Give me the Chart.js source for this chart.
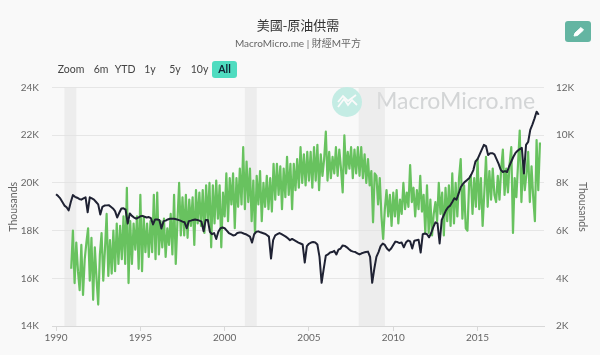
<!DOCTYPE html>
<html>
<head>
<meta charset="utf-8">
<script src="https://cdn.jsdelivr.net/npm/chart.js@4"></script>
<style>
html, body { margin: 0; padding: 0; background: #f9f9f9; }
#wrap { position: relative; width: 600px; height: 355px; overflow: hidden; font-family: Lato, sans-serif; color: #555; }
canvas { position: absolute; left: 0; top: 0; }
.range { position: absolute; top: 61px; height: 17px; line-height: 17px; font-size: 10.5px; text-align: center; color: #444; }
.range.on { background: #4fdcc0; border-radius: 3px; color: #123; font-weight: bold; }
#edit { position: absolute; left: 565px; top: 21px; width: 26px; height: 21px; background: #64b5a2; border-radius: 3px; }
#logo { position: absolute; left: 332px; top: 87px; width: 30px; height: 30px; }
</style>
</head>
<body>
<div id="wrap">
  <canvas id="oilChart" width="600" height="355"></canvas>
  <div id="buttons"></div>
  <div id="edit">
    <svg width="26" height="21" viewBox="0 0 26 21"><path d="M9 15 L10 12 L16 6.5 L18.5 9 L12.5 14.5 Z" fill="#fff" stroke="#fff" stroke-linejoin="round"/></svg>
  </div>
  <svg id="logo" viewBox="0 0 30 30">
    <circle cx="15" cy="15" r="15" fill="#c4ece4"/>
    <path d="M6 20 L12 12 L16 18 L20 13 L25 18" fill="none" stroke="#fafafa" stroke-width="1.8"/>
    <path d="M6 15 L11 9 L16 14 L24 8" fill="none" stroke="#fafafa" stroke-width="1.8"/>
  </svg>
</div>
<script>
// ----------------------------------------------------
const titleText = '美國-原油供需';
const subtitleText = 'MacroMicro.me | 財經M平方';
const rangeLabels = [ 'Zoom', '6m', 'YTD', '1y', '5y', '10y', 'All' ];
const rangeLefts = [ 56, 92, 114, 143, 168, 190, 212 ];
const rangeWidths = [ 30, 18, 22, 14, 14, 19, 25 ];
const leftTicks = [ 14, 16, 18, 20, 22, 24 ];
const rightTicks = [ 2, 4, 6, 8, 10, 12 ];
const recessions = [ [ 1990.5, 1991.2 ], [ 2001.2, 2001.9 ], [ 2007.95, 2009.5 ] ];
//
// demand, thousands of barrels, 10 readings a year from late 1990
const demandStart = 1990.9;
const demandStep = 0.1;
const demand = [
    16.4,
    18.0,15.8,17.5,16.3,15.5,17.4,15.3,16.8,17.5,18.1,
    15.9,17.7,15.1,17.3,16.0,14.9,17.0,17.9,15.9,17.2,
    18.7,16.1,17.6,16.2,18.0,16.3,18.3,16.6,18.2,16.8,
    18.6,16.6,19.8,15.8,18.4,16.6,18.3,17.2,18.6,16.4,
    19.5,16.3,18.6,17.1,18.3,16.9,18.4,17.1,19.5,16.8,
    19.6,17.0,18.4,17.3,18.5,16.9,18.1,17.4,18.7,17.0,
    19.5,16.6,18.4,20.0,17.8,19.4,17.8,19.5,17.7,19.3,
    18.2,19.4,17.4,19.7,18.3,19.6,18.2,19.7,17.9,19.9,
    18.4,20.0,17.3,19.9,18.3,20.1,18.5,19.9,17.3,19.6,
    18.6,20.4,18.4,20.2,19.1,20.4,18.1,20.2,19.0,20.6,
    19.1,21.5,18.9,20.9,19.2,20.6,18.4,20.1,17.9,20.3,
    19.1,20.5,18.4,20.0,19.0,20.3,18.9,20.2,18.8,20.8,
    19.3,20.8,19.5,20.7,18.9,20.6,19.4,21.1,19.5,20.8,
    18.9,20.8,19.7,21.0,19.8,21.5,20.0,21.2,19.9,21.3,
    20.1,21.3,19.8,21.5,20.1,21.6,19.7,21.2,20.3,21.0,
    22.15,20.1,21.3,20.2,21.1,20.4,21.5,20.3,21.4,20.6,
    19.6,22.0,20.4,21.3,20.6,21.5,20.2,21.4,20.4,21.5,
    20.3,21.5,20.2,21.2,20.0,21.0,19.9,20.5,18.35,20.4,
    20.3,19.1,20.2,18.6,17.65,18.9,19.7,18.6,19.5,18.2,
    19.6,18.6,19.7,18.3,19.3,18.7,20.0,18.9,19.6,19.0,
    20.75,19.2,19.8,18.6,19.7,18.9,20.3,18.8,19.5,17.9,
    19.9,17.9,19.3,17.8,18.7,19.2,18.4,20.0,18.7,19.6,
    17.8,19.8,18.4,19.9,18.2,20.4,18.3,20.0,18.6,20.2,
    21.0,18.5,19.9,18.1,18.0,20.0,20.3,18.7,20.2,19.0,
    21.0,18.9,20.2,18.2,19.6,21.1,19.0,20.5,19.3,20.6,
    19.5,19.2,20.3,19.3,20.6,21.4,19.5,20.6,19.6,20.8,
    21.5,17.9,20.2,19.4,20.8,22.2,19.2,20.9,19.7,20.4,
    21.3,19.2,20.7,19.4,18.4,21.8,19.7,21.7
];
//
// production, thousands of barrels, 8 readings a year from 1990
const productionStart = 1990;
const productionStep = 0.125;
const production = [
    7.53,7.45,7.35,7.2,7.05,6.98,6.85,7.2,
    7.49,7.42,7.38,7.33,7.3,7.35,7.4,6.77,
    7.4,7.35,7.3,7.2,7.1,6.68,7.0,7.05,
    7.06,7.07,7.0,6.93,6.82,6.55,6.75,6.93,
    6.94,6.88,6.3,6.72,6.62,6.55,6.5,6.55,
    6.6,6.62,6.58,6.55,6.57,6.52,6.26,6.47,
    6.47,6.45,6.09,6.4,6.42,6.47,6.5,6.5,
    6.5,6.48,6.45,6.42,6.38,6.35,6.1,6.4,
    6.42,6.45,6.47,6.45,6.42,6.38,5.97,6.45,
    6.45,5.95,5.85,5.9,5.65,5.95,6.1,6.13,
    6.1,6.0,5.9,5.85,5.8,5.82,5.9,5.92,
    5.92,5.88,5.85,5.8,5.75,5.5,5.85,5.95,
    5.97,5.93,5.9,5.87,5.82,5.75,4.83,5.6,
    5.8,5.85,5.9,5.85,5.8,5.75,5.68,5.6,
    5.65,5.6,5.55,5.5,5.46,5.42,4.66,5.35,
    5.45,5.5,5.52,5.5,5.42,4.9,3.81,4.4,
    4.95,5.0,5.08,5.1,5.15,5.0,5.2,5.25,
    5.38,5.36,5.3,5.22,5.15,5.12,5.1,5.05,
    5.0,5.05,5.08,5.1,5.12,4.9,3.81,4.4,
    4.9,5.1,5.35,5.46,5.4,5.25,5.16,5.25,
    5.4,5.54,5.52,5.48,5.5,5.3,5.5,5.59,
    5.55,5.25,5.58,5.6,5.62,5.08,5.85,5.88,
    5.85,5.72,5.9,6.15,6.35,6.3,5.46,6.45,
    6.65,6.85,6.98,7.05,7.2,7.36,7.3,7.55,
    7.82,7.95,8.05,8.12,8.2,8.35,8.54,8.9,
    9.0,9.2,9.4,9.6,9.55,9.17,9.25,9.25,
    9.2,9.0,8.8,8.55,8.46,8.5,8.46,8.7,
    8.9,9.1,9.26,9.35,9.42,9.47,8.4,9.6,
    9.72,10.23,10.45,10.7,10.99,10.86
];
// ----------------------------------------------------
const buttons = document.getElementById( 'buttons' );
rangeLabels.forEach( ( label, i ) => {
    const b = document.createElement( 'div' );
    b.className = label === 'All' ? 'range on' : 'range';
    b.textContent = label;
    b.style.left = rangeLefts[ i ] + 'px';
    b.style.width = rangeWidths[ i ] + 'px';
    buttons.appendChild( b );
});
//
const backdrop = {
    id: 'backdrop',
    beforeDatasetsDraw( chart ) {
        const { ctx, chartArea, scales } = chart;
        ctx.save();
        ctx.fillStyle = '#d3d5d6';
        ctx.font = '23px Lato';
        ctx.textBaseline = 'middle';
        ctx.fillText( 'MacroMicro.me', 376, 102 );
        ctx.fillStyle = 'rgba(225,225,225,0.5)';
        recessions.forEach( r => {
            const x0 = scales.x.getPixelForValue( r[ 0 ] );
            const x1 = scales.x.getPixelForValue( r[ 1 ] );
            ctx.fillRect( x0, chartArea.top, x1 - x0, chartArea.height );
        });
        ctx.restore();
    }
};
//
new Chart( document.getElementById( 'oilChart' ), {
    type: 'line',
    plugins: [ backdrop ],
    data: {
        datasets: [
            {
                label: 'production',
                yAxisID: 'yRight',
                order: 1,
                borderColor: '#1f2233',
                borderWidth: 2,
                pointRadius: 0,
                borderJoinStyle: 'round',
                data: production.map( ( v, i ) => ({ x: productionStart + i * productionStep, y: v }) )
            },
            {
                label: 'demand',
                yAxisID: 'yLeft',
                order: 2,
                borderColor: '#68c25f',
                borderWidth: 2.2,
                pointRadius: 0,
                borderJoinStyle: 'round',
                data: demand.map( ( v, i ) => ({ x: demandStart + i * demandStep, y: v }) )
            }
        ]
    },
    options: {
        responsive: false,
        animation: false,
        layout: { padding: { top: 0, bottom: 10, left: 3, right: 7 } },
        plugins: {
            legend: { display: false },
            tooltip: { enabled: false },
            title: {
                display: true,
                text: titleText,
                color: '#333',
                font: { family: '"Noto Sans CJK TC"', size: 13, weight: 'normal' },
                padding: { top: 17, bottom: 5 }
            },
            subtitle: {
                display: true,
                text: subtitleText,
                color: '#666',
                font: { family: 'Lato, "Noto Sans CJK TC"', size: 10 },
                padding: { top: 0, bottom: 38 }
            }
        },
        scales: {
            x: {
                type: 'linear',
                min: 1989.76,
                max: 2018.94,
                border: { color: '#d8d8d8' },
                grid: { drawOnChartArea: false, tickColor: '#d8d8d8', tickLength: 5 },
                ticks: {
                    stepSize: 5,
                    includeBounds: false,
                    maxRotation: 0,
                    padding: 1,
                    color: '#666',
                    font: { family: 'Lato', size: 10 },
                    callback: v => String( v )
                }
            },
            yLeft: {
                position: 'left',
                min: 14,
                max: 24,
                afterBuildTicks: s => { s.ticks = leftTicks.map( v => ({ value: v }) ); },
                afterFit: s => { s.width = 49; },
                border: { display: false },
                grid: { color: '#e6e6e6', drawTicks: false },
                title: { display: true, text: 'Thousands', color: '#666', font: { family: 'Lato', size: 10.5 } },
                ticks: { padding: 13, color: '#666', font: { family: 'Lato', size: 10 }, callback: v => v + 'K' }
            },
            yRight: {
                position: 'right',
                min: 2,
                max: 12,
                afterBuildTicks: s => { s.ticks = rightTicks.map( v => ({ value: v }) ); },
                afterFit: s => { s.width = 49; },
                border: { display: false },
                grid: { drawOnChartArea: false, drawTicks: false },
                title: { display: true, text: 'Thousands', color: '#666', font: { family: 'Lato', size: 10.5 } },
                ticks: { padding: 12, color: '#666', font: { family: 'Lato', size: 10 }, callback: v => v + 'K' }
            }
        }
    }
});
</script>
</body>
</html>
